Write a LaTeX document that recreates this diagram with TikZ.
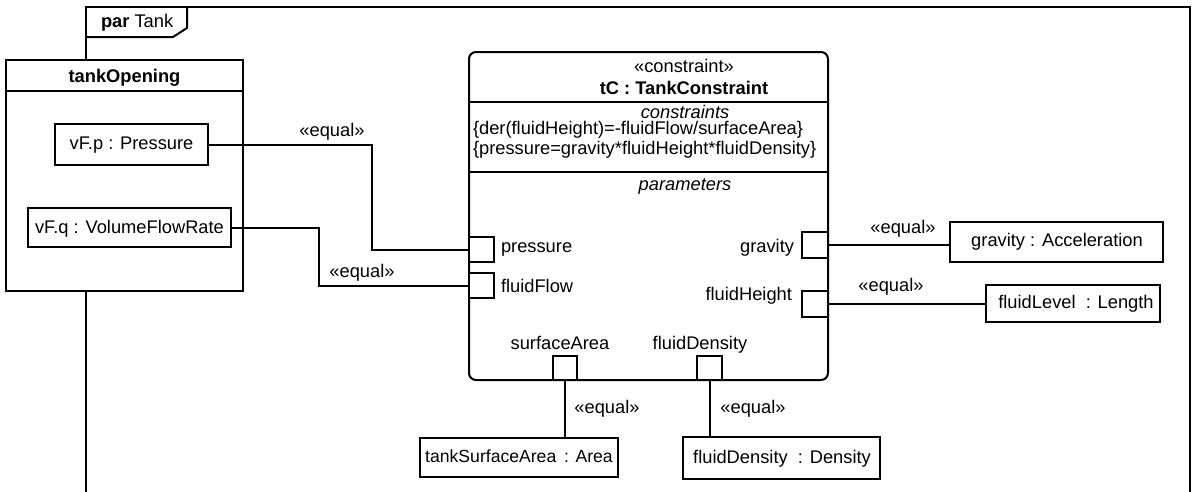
\documentclass[tikz,border=0pt]{standalone}
\usepackage{fontspec}
\setmainfont{Liberation Sans}
\begin{document}
\begin{tikzpicture}[x=1pt,y=-1pt, line width=2pt,
  every node/.style={font=\fontsize{18.3}{20}\selectfont, inner sep=0pt, outer sep=0pt},
  box/.style={draw, fill=white, rectangle},
  portbox/.style={draw, fill=white, rectangle, minimum width=25pt, minimum height=25pt},
  txt/.style={anchor=base}]
\useasboundingbox (0,0) rectangle (1195,491);
\fill[white] (0,0) rectangle (1195,491);
% frame
\draw (86,495) -- (86,7) -- (1190,7) -- (1190,495);
\draw (86,37) -- (173,37) -- (187,28) -- (187,7);
\node[anchor=base west] (frametitle) at (101,27) {\textbf{par} Tank};
% tankOpening
\node[box, minimum width=237pt, minimum height=231pt] (tank) at (124.5,175.5) {};
\draw (6,91) -- (243,91);
\node[txt] (tanktitle) at (124.5,82) {\textbf{tankOpening}};
\node[box, minimum width=153pt, minimum height=41pt] (vFp) at (131.5,144.5) {};
\node[txt] (vFptext) at (131.5,149) {vF.p : Pressure};
\node[box, minimum width=203pt, minimum height=39pt] (vFq) at (129.5,227.5) {};
\node[txt] (vFqtext) at (129.5,233) {vF.q : VolumeFlowRate};
% constraint block
\node[draw, fill=white, rounded corners=7pt, minimum width=359pt, minimum height=328pt] (tC) at (648.5,216) {};
\draw (469,102) -- (828,102);
\draw (469,172) -- (828,172);
\node[txt] (stereo) at (684,72) {«constraint»};
\node[txt] (tcname) at (684,94) {\textbf{tC : TankConstraint}};
\node[txt] (cons) at (685,118) {\textit{constraints}};
\node[anchor=base west] (c1) at (473,134) {\{der(fluidHeight)=-fluidFlow/surfaceArea\}};
\node[anchor=base west] (c2) at (473,154) {\{pressure=gravity*fluidHeight*fluidDensity\}};
\node[txt] (params) at (685,190) {\textit{parameters}};
% ports
\node[portbox] (pPress) at (481.5,249.5) {};
\node[portbox] (pFlow) at (481.5,285.5) {};
\node[portbox, minimum width=26pt, minimum height=26pt] (pGrav) at (815,244.5) {};
\node[portbox, minimum width=26pt, minimum height=26pt] (pHeight) at (815,303.5) {};
\node[portbox, minimum width=24pt, minimum height=24pt] (pSA) at (565,368) {};
\node[portbox, minimum width=25pt, minimum height=24pt] (pDen) at (709.5,368) {};
\node[anchor=base west] (lPress) at (501,252) {pressure};
\node[anchor=base west] (lFlow) at (501,292) {fluidFlow};
\node[anchor=base east] (lGrav) at (794,252) {gravity};
\node[anchor=base east] (lHeight) at (792,300) {fluidHeight};
\node[txt] (lSA) at (560,349) {surfaceArea};
\node[txt] (lDen) at (700,349) {fluidDensity};
% value boxes
\node[box, minimum width=213pt, minimum height=40pt] (grav) at (1056.5,242) {};
\node[txt] (gravtext) at (1057,246) {gravity : Acceleration};
\node[box, minimum width=174pt, minimum height=37pt] (level) at (1073,303.5) {};
\node[txt] (leveltext) at (1076,308) {fluidLevel~ : Length};
\node[box, minimum width=198pt, minimum height=39pt] (tankSA) at (519,457.5) {};
\node[txt, font=\fontsize{17.6}{20}\selectfont] (tankSAtext) at (519,462) {tankSurfaceArea\hspace{3pt} : Area};
\node[box, minimum width=197pt, minimum height=42pt] (dens) at (781.5,458) {};
\node[txt] (denstext) at (782,463) {fluidDensity~ : Density};
% connectors
\draw (vFp.east) -- ++(164,0) |- (pPress.west);
\draw (vFq.east) -- ++(88,0) |- (pFlow.west);
\draw (pGrav.east) -- (pGrav.east -| grav.west);
\draw (pHeight.east) -- (pHeight.east -| level.west);
\draw (pSA.south) -- (pSA.south |- tankSA.north);
\draw (pDen.south) -- (pDen.south |- dens.north);
% equal labels
\node[txt] (e1) at (332,136) {«equal»};
\node[txt] (e2) at (362,277) {«equal»};
\node[txt] (e3) at (903,233) {«equal»};
\node[txt] (e4) at (891,291) {«equal»};
\node[txt] (e5) at (607,413) {«equal»};
\node[txt] (e6) at (753,413) {«equal»};
\end{tikzpicture}
\end{document}
